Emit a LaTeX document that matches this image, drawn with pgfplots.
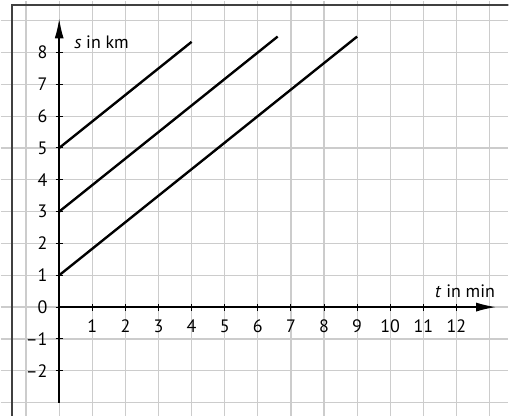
\documentclass[border=0pt]{standalone}
\usepackage{pgfplots}
\pgfplotsset{compat=1.18}
\usepackage{fontspec}
\setmainfont{PT Sans}
\usetikzlibrary{arrows.meta}
\begin{document}
\fontsize{18}{21}\selectfont
\begin{tikzpicture}
\begin{axis}[
  scale only axis, width=509pt, height=416pt,
  xmin=-1.77, xmax=13.57, ymin=-3.41, ymax=9.63,
  axis lines=middle,
  hide obscured x ticks=false, hide obscured y ticks=false,
  axis line style={draw=none},
  xtick={1,...,12}, xticklabels={1,2,3,4,5,6,7,8,9,10,11,12},
  ytick={-2,...,8}, yticklabels={--2,--1,0,1,2,3,4,5,6,7,8},
  extra x ticks={-1,0,13}, extra x tick labels={},
  extra y ticks={-3,9}, extra y tick labels={},
  extra tick style={major tick length=0pt, grid=major},
  grid=major,
  grid style={line width=1.2pt, color=black!20},
  tick style={black, line width=1pt},
  major tick length=7pt, tick align=center,
  xticklabel style={font=\fontsize{18}{21}\selectfont, yshift=-3pt},
  yticklabel style={font=\fontsize{18}{21}\selectfont, xshift=-2pt},
]
\draw[line width=2pt, color=black!75] (axis cs:-1.44,-3.6) -- (axis cs:-1.44,9.48) -- (axis cs:13.8,9.48);
\draw[line width=1.6pt, -{Latex[length=20pt,width=9pt]}] (axis cs:0,0) -- (axis cs:13.2,0);
\draw[line width=1.6pt, -{Latex[length=20pt,width=9pt]}] (axis cs:0,-3) -- (axis cs:0,9.07);
\addplot[line width=2.4pt, black] coordinates {(0,5) (4,8.333)};
\addplot[line width=2.4pt, black] coordinates {(0,3) (6.6,8.5)};
\addplot[line width=2.4pt, black] coordinates {(0,1) (9,8.5)};
\node[anchor=west, inner sep=0pt] at (axis cs:0.45,8.33) {\textit{s} in km};
\node[anchor=east, inner sep=0pt] at (axis cs:13.17,0.5) {\textit{t} in min};
\end{axis}
\end{tikzpicture}
\end{document}
